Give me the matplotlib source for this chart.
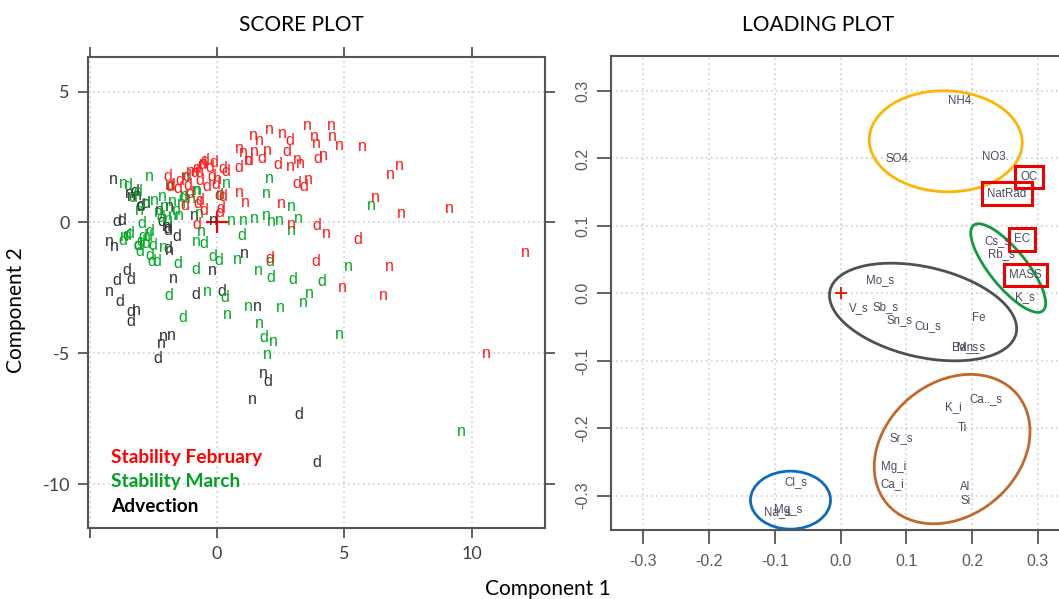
import numpy as np
import matplotlib
matplotlib.use('Agg')
import matplotlib.pyplot as plt
from matplotlib.patches import Ellipse
from matplotlib.transforms import ScaledTranslation

# ---------------- SCORE PLOT data ----------------
feb_n_x = [3.55, 4.50, 2.04, 1.42, 1.68, 2.57, 3.84, 3.91, 4.54, 4.80, 5.72, 0.88, 1.05, 1.47, 1.97, 1.22,
           3.16, 3.26, 2.88, 4.19, 3.58, 0.86, 1.13, 2.52, 2.90, 4.28, 6.22, 6.79, 7.15, 7.25, 9.12, 12.10,
           10.58, 6.76, 4.94, 6.53, -0.55, -0.70, 0.02, -1.05]
feb_n_y = [3.71, 3.71, 3.55, 3.33, 3.14, 3.38, 3.27, 3.02, 3.27, 2.95, 2.89, 2.84, 2.68, 2.70, 2.76, 2.38,
           2.42, 2.25, 2.12, 2.55, 1.66, 1.14, 0.78, 0.73, -0.07, -0.41, 0.95, 1.84, 2.19, 0.34, 0.53, -1.16,
           -4.99, -1.69, -2.48, -2.77, 2.25, 1.95, 1.65, 1.95]
feb_d_x = [2.86, 1.74, 2.73, 2.38, 3.97, 0.86, 1.26, -0.14, 0.24, 0.35, 3.12, 3.40, 3.92, 5.52, 3.88, 2.06,
           -0.22, -0.05, 0.24, 0.14, -0.52, -0.81, -0.42, -1.07, -1.53, -1.93, -1.86, -1.47, -0.68, -0.60,
           -0.78, -0.48, -0.88, -0.68, -1.20, 0.08, -0.76, -1.28, -1.81, 0.09, -1.15, -0.30]
feb_d_y = [3.14, 2.44, 2.70, 2.21, 2.44, 2.11, 2.38, 2.29, 2.06, 1.95, 1.50, 1.37, -0.12, -0.64, -1.50, -1.37,
           1.74, 1.46, 0.98, 0.53, 0.47, -0.07, 1.36, 1.11, 1.30, 1.74, 1.36, 1.61, 1.61, 2.20,
           2.05, 2.35, 1.90, 0.85, 1.74, 1.04, 0.74, 0.66, 1.42, 0.40, 1.42, 2.10]

mar_n_x = [-2.67, -1.23, 2.04, 1.94, 2.92, 6.05, 0.37, 0.11, 0.57, 1.02, 1.48, 1.94, 2.14, 2.46, 3.18, 2.92,
           -0.61, -0.81, -2.12, 0.79, 1.61, 5.15, 3.62, 3.37, 2.49, 1.23, 0.42, -0.37, 1.65, 2.23, 1.97, 4.81,
           9.61, -1.87, -0.76, -2.13, -2.46, -2.79, -1.74, -1.42, -1.28, -1.61, -1.74, -1.48, -2.07, -3.05,
           -3.64, -0.69, -0.81, -3.69, -1.00, -2.30, -1.90]
mar_n_y = [1.77, 1.74, 1.68, 1.11, 0.60, 0.64, 1.49, 1.07, 0.09, 0.09, 0.15, 0.28, 0.02, 0.09, 0.15, -0.29,
           -0.36, -0.74, -0.95, -1.41, -1.84, -1.69, -2.71, -3.07, -3.25, -3.22, -3.50, -2.62, -3.85, -4.56,
           -5.06, -4.26, -7.97, 1.42, 1.23, 0.98, 0.85, 0.72, 0.79, 0.72, 1.04, 0.47, 0.28, 0.28, 0.60, 0.47,
           -0.55, 0.34, 1.23, 1.49, 0.90, 0.40, 0.10]
mar_d_x = [-3.51, -3.12, 0.98, -0.52, -2.97, -2.65, -2.91, -3.56, -3.69, -3.11, -2.78, -2.52, -3.04, -2.65,
           -2.58, -2.38, -1.53, -0.84, -0.16, 0.08, 2.07, 2.10, 2.99, 4.10, 0.31, -1.91, -1.35, 1.84, -3.44,
           -2.99, -2.72, -2.20, -1.35, -3.30]
mar_d_y = [1.42, 1.17, -0.48, -0.80, -0.04, -0.33, -0.55, -0.48, -0.68, -0.87, -0.80, -0.87, -1.12, -1.25,
           -1.50, -1.50, -1.56, -1.79, -1.29, -1.44, -1.50, -2.10, -2.18, -2.27, -2.86, -2.77, -3.63, -4.39,
           -0.42, -0.74, -0.55, 0.20, 0.95, 0.95]

adv_n_x = [-4.09, -3.37, -2.25, -1.86, -0.88, -0.16, -1.99, -4.22, -4.02, -1.86, -1.73, -0.18, 1.09, -4.23,
           -3.18, 1.60, -2.10, -1.78, -2.17, 1.80, 1.40, -3.12, -3.44]
adv_n_y = [1.64, 0.98, 0.47, 0.60, 0.28, 0.06, -0.17, -0.74, -0.93, -1.06, -2.14, -1.85, -1.18, -2.65,
           -3.35, -3.22, -4.37, -4.30, -4.62, -5.76, -6.76, 1.04, 1.11]
adv_d_x = [-3.24, -2.78, -3.04, -3.95, -3.76, -2.19, -1.93, -1.60, -3.56, -3.95, -3.37, 0.20, -3.84, -3.40,
           -3.40, -0.83, -2.33, 1.99, 3.21, 3.93, -3.12, -1.94, -2.99, -1.94]
adv_d_y = [1.17, 0.72, 0.60, 0.02, 0.09, 0.02, -0.29, -0.55, -1.82, -2.22, -2.18, -2.65, -3.03, -3.41,
           -3.79, -2.74, -5.19, -6.08, -7.32, -9.18, -0.87, -0.99, 0.66, -0.23]

groups = ["Stability February", "Stability March", "Advection"]
group_colors = ["#FF1A1A", "#00AA22", "#333333"]

# ---------------- LOADING PLOT data ----------------
var_names = ["NH4.", "SO4.", "NO3.", "OC", "NatRad", "Cs_s", "EC", "Rb_s", "MASS", "K_s",
             "Mo_s", "V_s", "Sb_s", "Sn_s", "Cu_s", "Fe", "Ba_s", "Mn_s",
             "Ca.._s", "K_i", "Ti", "Sr_s", "Mg_i", "Ca_i", "Al", "Si",
             "Cl_s", "Na_s", "Mg_s"]
load_x = [0.184, 0.088, 0.235, 0.287, 0.253, 0.238, 0.276, 0.245, 0.281, 0.280,
          0.060, 0.028, 0.068, 0.090, 0.132, 0.210, 0.190, 0.198,
          0.221, 0.171, 0.185, 0.093, 0.081, 0.078, 0.190, 0.190,
          -0.068, -0.096, -0.079]
load_y = [0.286, 0.199, 0.202, 0.173, 0.148, 0.077, 0.080, 0.058, 0.027, -0.006,
          0.020, -0.022, -0.021, -0.039, -0.049, -0.036, -0.080, -0.080,
          -0.157, -0.169, -0.199, -0.215, -0.257, -0.283, -0.287, -0.308,
          -0.280, -0.325, -0.322]
boxed = ["OC", "NatRad", "EC", "MASS"]

# clusters: centre (data), width/height (inches), angle (deg), colour
clusters = [
    ((0.160, 0.2255), 1.53, 1.01, -2, "#FFB400"),
    ((0.255, 0.0375), 1.10, 0.37, -51, "#119A3A"),
    ((0.1255, -0.0277), 1.91, 0.90, -13, "#505050"),
    ((0.1697, -0.2310), 1.70, 1.33, 40, "#C0692B"),
    ((-0.0761, -0.3067), 0.80, 0.58, 0, "#0A6CC0"),
]

# ---------------- figure ----------------
fig = plt.figure(figsize=(10.59, 5.99), dpi=100)
ax1 = fig.add_axes([0.0831, 0.1185, 0.4315, 0.7863])
ax2 = fig.add_axes([0.5770, 0.1152, 0.4334, 0.7913])

spine_col = "#555555"
for ax in (ax1, ax2):
    for s in ax.spines.values():
        s.set_color(spine_col)
        s.set_linewidth(1.5)
    ax.grid(True, ls=(0, (1, 2)), color="#cfcfcf", lw=1.2)
    ax.set_axisbelow(True)

# score plot
ax1.set_xlim(-5.07, 12.88)
ax1.set_ylim(-11.67, 6.32)
marker_font = dict(fontsize=11.5, family="Liberation Sans", ha="center", va="center", clip_on=True)
series = [
    (feb_n_x, feb_n_y, "n", 0), (feb_d_x, feb_d_y, "d", 0),
    (mar_n_x, mar_n_y, "n", 1), (mar_d_x, mar_d_y, "d", 1),
    (adv_n_x, adv_n_y, "n", 2), (adv_d_x, adv_d_y, "d", 2),
]
for order in (2, 1, 0):
    for xs, ys, lab, g in series:
        if g != order:
            continue
        for x, y in zip(xs, ys):
            ax1.text(x, y, lab, color=group_colors[g], **marker_font)
ax1.plot([0], [0], marker="+", color="red", ms=16, mew=1.6, ls="none")

ax1.set_xticks([-5, 0, 5, 10])
ax1.set_xticklabels(["", "0", "5", "10"])
ax1.set_yticks([-10, -5, 0, 5])
ax1.set_yticklabels(["-10", "-5", "0", "5"])
ax1.tick_params(direction="out", length=7, width=1.3, color=spine_col, top=True, right=True,
                labelsize=13, labelcolor="#404040", pad=6)
for lab in ax1.get_xticklabels() + ax1.get_yticklabels():
    lab.set_family("Lato")

legend_y = [457, 481, 506]
for name, col, py in zip(groups, ["#FF0000", "#00A020", "#000000"], legend_y):
    fig.text(111 / 1059, 1 - py / 599, name, color=col, fontsize=13.8, fontweight="bold",
             family="Lato", ha="left", va="center")

# loading plot
ax2.set_xlim(-0.349, 0.349)
ax2.set_ylim(-0.351, 0.352)
ticks = [-0.3, -0.2, -0.1, 0.0, 0.1, 0.2, 0.3]
ax2.set_xticks(ticks)
ax2.set_xticklabels([f"{t:.1f}" for t in ticks])
ax2.set_yticks(ticks)
ax2.set_yticklabels([f"{t:.1f}" for t in ticks], rotation=90, va="center")
ax2.tick_params(direction="out", length=10, width=1.3, color=spine_col,
                labelsize=11.5, labelcolor="#5a5a5a")
ax2.tick_params(axis="x", pad=7)
ax2.tick_params(axis="y", pad=5)
for lab in ax2.get_xticklabels() + ax2.get_yticklabels():
    lab.set_family("Liberation Sans")

for name, x, y in zip(var_names, load_x, load_y):
    kw = {}
    if name in boxed:
        kw["bbox"] = dict(boxstyle="square,pad=0.45", fc="none", ec="#EE0000", lw=2.2)
    ax2.text(x, y, name, fontsize=8.3, color="#4a4a60", family="Liberation Sans",
             ha="center", va="center", **kw)
ax2.plot([0], [0], marker="+", color="red", ms=9, mew=1.3, ls="none")

for (cx, cy), w, h, ang, col in clusters:
    tr = fig.dpi_scale_trans + ScaledTranslation(cx, cy, ax2.transData)
    ax2.add_patch(Ellipse((0, 0), w, h, angle=ang, transform=tr, fill=False,
                          ec=col, lw=2.0, clip_on=False))

# titles and axis labels
fig.text(301 / 1059, 1 - 25 / 599, "SCORE PLOT", fontsize=15, family="Lato", ha="center", va="center")
fig.text(818 / 1059, 1 - 25 / 599, "LOADING PLOT", fontsize=15, family="Lato", ha="center", va="center")
fig.text(548 / 1059, 1 - 589 / 599, "Component 1", fontsize=15, family="Lato", ha="center", va="center")
fig.text(16 / 1059, 1 - 310 / 599, "Component 2", fontsize=15, family="Lato", ha="center", va="center",
         rotation=90)

fig.savefig("out.png", dpi=100)
